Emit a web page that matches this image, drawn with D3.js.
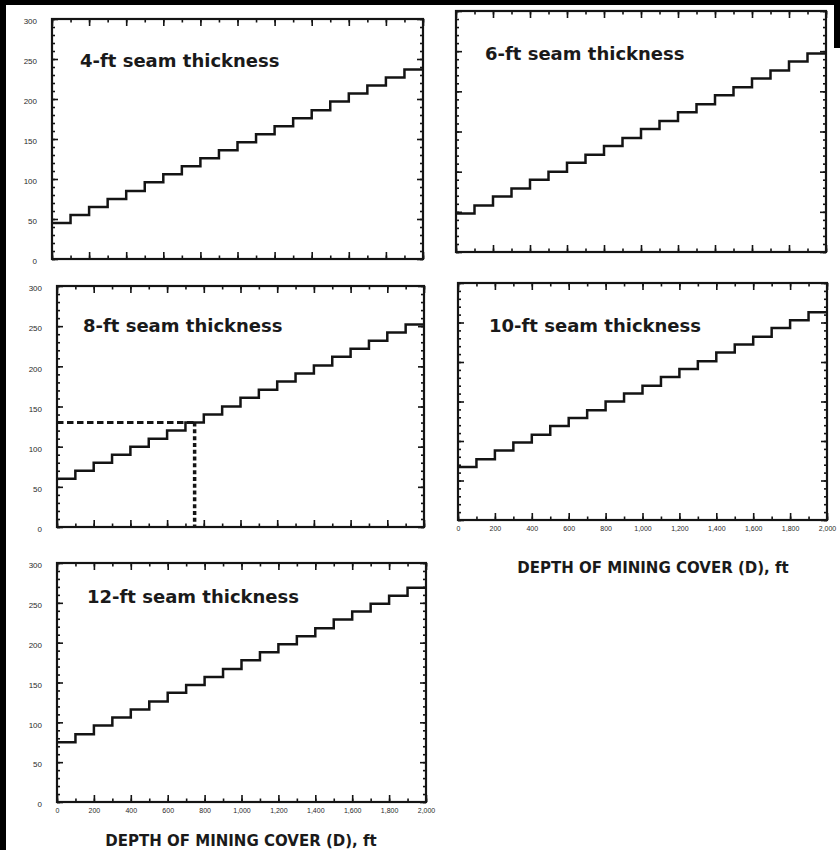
<!DOCTYPE html>
<html>
<head>
<meta charset="utf-8">
<script src="https://cdn.jsdelivr.net/npm/d3@7/dist/d3.min.js"></script>
<style>
  html, body { margin: 0; padding: 0; background: #fff; }
  svg { display: block; }
  .tick text { font-family: "Liberation Sans", Arial, sans-serif; fill: #2a2a2a; }
</style>
</head>
<body>
<script>
// ---- data -------------------------------------------------------------
// Start of each 100-ft depth-of-cover interval (ft)
const depthSteps = [0, 100, 200, 300, 400, 500, 600, 700, 800, 900,
                    1000, 1100, 1200, 1300, 1400, 1500, 1600, 1700, 1800, 1900];
const depthMax = 2000;

const seamTitles = ["4-ft seam thickness", "6-ft seam thickness", "8-ft seam thickness",
                    "10-ft seam thickness", "12-ft seam thickness"];

// Required width (ft) for each depth interval, one list per seam thickness
const width4ft  = [45, 55, 65, 75, 85, 96, 106, 116, 126, 136, 146, 156, 166, 176, 186, 197, 207, 217, 227, 237];
const width6ft  = [48, 58, 69, 79, 90, 100, 111, 121, 132, 142, 153, 163, 174, 184, 195, 205, 216, 226, 237, 247];
const width8ft  = [60, 70, 80, 90, 100, 110, 120, 130, 140, 150, 161, 171, 181, 191, 201, 212, 222, 232, 242, 252];
const width10ft = [67, 77, 88, 98, 108, 119, 129, 139, 150, 160, 170, 181, 191, 201, 212, 222, 232, 243, 253, 263];
const width12ft = [75, 85, 96, 106, 116, 126, 137, 147, 157, 167, 178, 188, 198, 208, 218, 229, 239, 249, 259, 269];

const exampleDepth = 750;
const exampleWidth = 130;

const yMajorTicks = [0, 50, 100, 150, 200, 250, 300];
const xMajorTicks = [0, 200, 400, 600, 800, 1000, 1200, 1400, 1600, 1800, 2000];
const xTickLabels = ["0", "200", "400", "600", "800", "1,000", "1,200", "1,400", "1,600", "1,800", "2,000"];
const axisTitle = "DEPTH OF MINING COVER (D), ft";

// ---- layout -----------------------------------------------------------
const W = 840, H = 850;
const panels = [
  { values: width4ft,  left: 52,  right: 423, top: 19,  bottom: 259, yLabels: true,  xLabels: false, tx: 80,  ty: 67 },
  { values: width6ft,  left: 456, right: 826, top: 11,  bottom: 252, yLabels: false, xLabels: false, tx: 485, ty: 60 },
  { values: width8ft,  left: 57,  right: 424, top: 286, bottom: 527, yLabels: true,  xLabels: false, tx: 83,  ty: 332, example: true },
  { values: width10ft, left: 458, right: 827, top: 283, bottom: 520, yLabels: false, xLabels: true,  tx: 489, ty: 332, title: { x: 653, y: 573 } },
  { values: width12ft, left: 57,  right: 426, top: 563, bottom: 802, yLabels: true,  xLabels: true,  tx: 87,  ty: 603, title: { x: 241, y: 846 } }
];

const svg = d3.select("body").append("svg")
  .attr("width", W).attr("height", H)
  .attr("viewBox", `0 0 ${W} ${H}`);

svg.append("rect").attr("width", W).attr("height", H).attr("fill", "#fff");

const ink = "#141414";

panels.forEach((p, i) => {
  const x = d3.scaleLinear().domain([0, depthMax]).range([p.left, p.right]);
  const y = d3.scaleLinear().domain([0, 300]).range([p.bottom, p.top]);
  const g = svg.append("g");

  const styleAxis = sel => {
    sel.select(".domain").remove();
    sel.selectAll(".tick line").attr("stroke", ink).attr("stroke-width", 1.6);
  };

  // minor + major ticks on all four sides, pointing inward
  const minorX = d3.range(0, depthMax + 1, 100);
  const minorY = d3.range(0, 301, 10);

  g.append("g").attr("transform", `translate(0,${p.bottom})`)
    .call(d3.axisBottom(x).tickValues(minorX).tickSize(-3.5).tickFormat(""))
    .call(styleAxis);
  const xb = g.append("g").attr("transform", `translate(0,${p.bottom})`)
    .call(d3.axisBottom(x).tickValues(xMajorTicks).tickSize(-7).tickPadding(6)
      .tickFormat((d, k) => p.xLabels ? xTickLabels[k] : ""))
    .call(styleAxis);
  xb.selectAll(".tick text").attr("font-size", 7);

  g.append("g").attr("transform", `translate(0,${p.top})`)
    .call(d3.axisTop(x).tickValues(minorX).tickSize(-3.5).tickFormat(""))
    .call(styleAxis);
  g.append("g").attr("transform", `translate(0,${p.top})`)
    .call(d3.axisTop(x).tickValues(xMajorTicks).tickSize(-7).tickFormat(""))
    .call(styleAxis);

  g.append("g").attr("transform", `translate(${p.left},0)`)
    .call(d3.axisLeft(y).tickValues(minorY).tickSize(-3).tickFormat(""))
    .call(styleAxis);
  const yl = g.append("g").attr("transform", `translate(${p.left},0)`)
    .call(d3.axisLeft(y).tickValues(yMajorTicks).tickSize(-6).tickPadding(15)
      .tickFormat(d => p.yLabels ? d : ""))
    .call(styleAxis);
  yl.selectAll(".tick text").attr("font-size", 8).attr("dy", "0.6em");

  g.append("g").attr("transform", `translate(${p.right},0)`)
    .call(d3.axisRight(y).tickValues(minorY).tickSize(-3).tickFormat(""))
    .call(styleAxis);
  g.append("g").attr("transform", `translate(${p.right},0)`)
    .call(d3.axisRight(y).tickValues(yMajorTicks).tickSize(-6).tickFormat(""))
    .call(styleAxis);

  // plot frame
  g.append("rect")
    .attr("x", p.left).attr("y", p.top)
    .attr("width", p.right - p.left).attr("height", p.bottom - p.top)
    .attr("fill", "none").attr("stroke", ink).attr("stroke-width", 2.2);

  // stepped width-vs-depth line
  const pts = depthSteps.map((d, k) => [d, p.values[k]]);
  pts.push([depthMax, p.values[p.values.length - 1]]);
  g.append("path")
    .datum(pts)
    .attr("fill", "none").attr("stroke", ink).attr("stroke-width", 2.5)
    .attr("stroke-linejoin", "miter")
    .attr("d", d3.line().x(d => x(d[0])).y(d => y(d[1])).curve(d3.curveStepAfter));

  // dashed read-off lines for the worked example
  if (p.example) {
    g.append("line")
      .attr("x1", x(0)).attr("x2", x(exampleDepth))
      .attr("y1", y(exampleWidth)).attr("y2", y(exampleWidth))
      .attr("stroke", ink).attr("stroke-width", 3).attr("stroke-dasharray", "6.5,3.5");
    g.append("line")
      .attr("x1", x(exampleDepth)).attr("x2", x(exampleDepth))
      .attr("y1", y(exampleWidth)).attr("y2", y(0))
      .attr("stroke", ink).attr("stroke-width", 3.5).attr("stroke-dasharray", "4,2.8");
  }

  // seam-thickness caption inside the frame
  g.append("text")
    .attr("x", p.tx).attr("y", p.ty)
    .attr("font-family", "'DejaVu Sans', sans-serif")
    .attr("font-weight", "bold").attr("font-size", 18)
    .attr("fill", "#1a1a1a")
    .text(seamTitles[i]);

  // x-axis title under the bottom charts
  if (p.title) {
    g.append("text")
      .attr("x", p.title.x).attr("y", p.title.y)
      .attr("text-anchor", "middle")
      .attr("font-family", "'DejaVu Sans', sans-serif")
      .attr("font-weight", "bold").attr("font-size", 15)
      .attr("fill", "#1a1a1a")
      .text(axisTitle);
  }
});

// page border
svg.append("rect").attr("x", 0).attr("y", 0).attr("width", 6).attr("height", H).attr("fill", "#000");
svg.append("rect").attr("x", 0).attr("y", 0).attr("width", W).attr("height", 5).attr("fill", "#000");
svg.append("rect").attr("x", 834).attr("y", 0).attr("width", 6).attr("height", 48).attr("fill", "#000");
</script>
</body>
</html>
